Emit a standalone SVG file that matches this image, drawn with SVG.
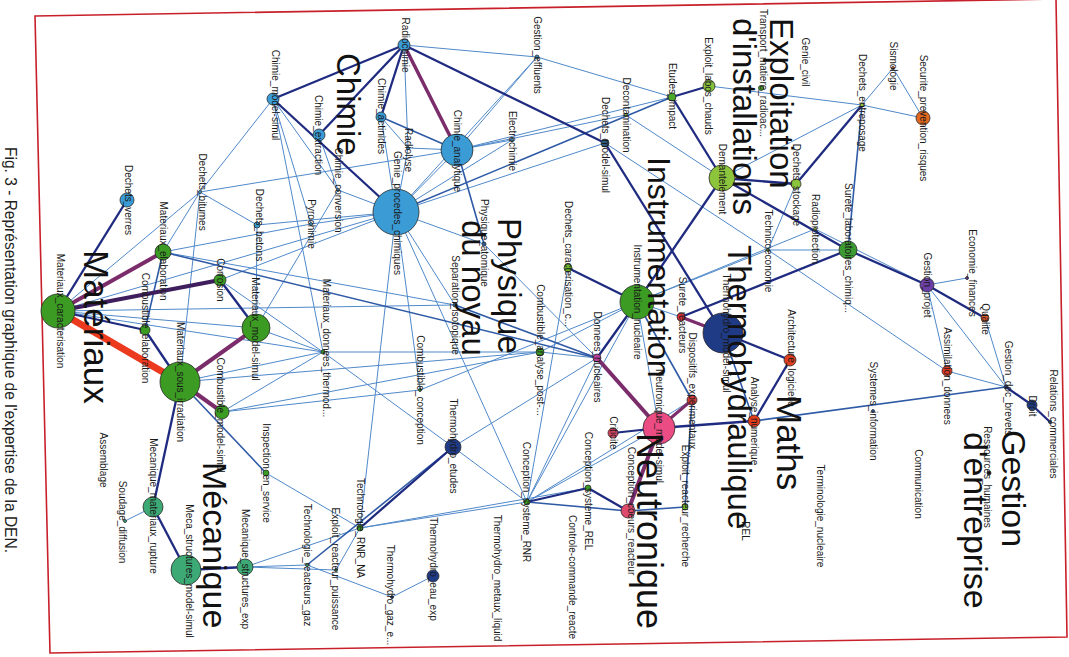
<svg xmlns="http://www.w3.org/2000/svg" width="1069" height="657" viewBox="0 0 1069 657">
<style>
.l{stroke:#5089ca;stroke-width:1;fill:none}
.m{stroke:#2e5aa6;stroke-width:1.6;fill:none}
.n{stroke:#1f2b80;stroke-width:2.3;fill:none}
.p{stroke:#7b2c6b;stroke-width:4;fill:none}
.dp{stroke:#3e1e5c;stroke-width:4;fill:none}
.r{stroke:#ec3a1f;stroke-width:7;fill:none;stroke-linecap:round}
circle{stroke:#2b2b2b;stroke-width:0.8}
.lb{font-family:"Liberation Sans",Arial,sans-serif;font-size:10px;fill:#1a1a1a;text-anchor:middle;dominant-baseline:central}
.big{font-family:"Liberation Sans",Arial,sans-serif;font-size:34px;fill:#111}
.cap{font-family:"Liberation Sans",Arial,sans-serif;font-size:17px;fill:#222}
</style>
<rect width="1069" height="657" fill="#ffffff"/>
<polygon points="35,16 1056,-1 1067,637 50,653" fill="none" stroke="#c8202a" stroke-width="1.6"/>
<text class="cap" transform="translate(5,147) rotate(90)" textLength="406" lengthAdjust="spacingAndGlyphs">Fig. 3 - Représentation graphique de l'expertise de la DEN.</text>

<g id="connectors">
<line class="l" x1="58" y1="311" x2="256" y2="328"/>
<line class="l" x1="58" y1="311" x2="323" y2="352"/>
<line class="l" x1="58" y1="311" x2="455" y2="305"/>
<line class="l" x1="58" y1="311" x2="200" y2="192"/>
<line class="l" x1="58" y1="311" x2="396" y2="212"/>
<line class="l" x1="163" y1="252" x2="455" y2="305"/>
<line class="l" x1="163" y1="252" x2="200" y2="192"/>
<line class="l" x1="163" y1="252" x2="311" y2="224"/>
<line class="l" x1="220" y1="280" x2="323" y2="352"/>
<line class="l" x1="220" y1="280" x2="396" y2="212"/>
<line class="l" x1="256" y1="328" x2="323" y2="352"/>
<line class="l" x1="256" y1="328" x2="338" y2="190"/>
<line class="l" x1="256" y1="328" x2="257" y2="225"/>
<line class="l" x1="180" y1="382" x2="323" y2="352"/>
<line class="l" x1="180" y1="382" x2="200" y2="192"/>
<line class="l" x1="180" y1="382" x2="540" y2="352"/>
<line class="l" x1="222" y1="412" x2="323" y2="352"/>
<line class="l" x1="222" y1="412" x2="420" y2="390"/>
<line class="l" x1="222" y1="412" x2="540" y2="352"/>
<line class="l" x1="323" y1="352" x2="453" y2="447"/>
<line class="l" x1="323" y1="352" x2="540" y2="352"/>
<line class="l" x1="323" y1="352" x2="273" y2="99"/>
<line class="l" x1="200" y1="192" x2="273" y2="99"/>
<line class="l" x1="200" y1="192" x2="257" y2="225"/>
<line class="l" x1="200" y1="192" x2="457" y2="150"/>
<line class="l" x1="257" y1="225" x2="396" y2="212"/>
<line class="l" x1="273" y1="99" x2="311" y2="224"/>
<line class="l" x1="273" y1="99" x2="338" y2="190"/>
<line class="l" x1="404" y1="45" x2="537" y2="57"/>
<line class="l" x1="404" y1="45" x2="408" y2="148"/>
<line class="l" x1="381" y1="117" x2="408" y2="148"/>
<line class="l" x1="381" y1="117" x2="396" y2="212"/>
<line class="l" x1="319" y1="135" x2="338" y2="190"/>
<line class="l" x1="408" y1="148" x2="396" y2="212"/>
<line class="l" x1="408" y1="148" x2="457" y2="150"/>
<line class="l" x1="457" y1="150" x2="396" y2="212"/>
<line class="l" x1="457" y1="150" x2="537" y2="57"/>
<line class="l" x1="457" y1="150" x2="512" y2="140"/>
<line class="l" x1="457" y1="150" x2="626" y2="115"/>
<line class="l" x1="457" y1="150" x2="672" y2="97"/>
<line class="l" x1="396" y1="212" x2="512" y2="140"/>
<line class="l" x1="396" y1="212" x2="537" y2="57"/>
<line class="l" x1="396" y1="212" x2="311" y2="224"/>
<line class="l" x1="396" y1="212" x2="338" y2="190"/>
<line class="l" x1="396" y1="212" x2="484" y2="244"/>
<line class="l" x1="396" y1="212" x2="455" y2="305"/>
<line class="l" x1="396" y1="212" x2="420" y2="390"/>
<line class="l" x1="396" y1="212" x2="605" y2="143"/>
<line class="l" x1="396" y1="212" x2="527" y2="502"/>
<line class="l" x1="396" y1="212" x2="360" y2="528"/>
<line class="l" x1="484" y1="244" x2="597" y2="358"/>
<line class="l" x1="420" y1="390" x2="637" y2="302"/>
<line class="l" x1="453" y1="447" x2="527" y2="502"/>
<line class="l" x1="453" y1="447" x2="597" y2="358"/>
<line class="l" x1="266" y1="473" x2="360" y2="528"/>
<line class="l" x1="245" y1="567" x2="307" y2="565"/>
<line class="l" x1="245" y1="567" x2="336" y2="570"/>
<line class="l" x1="245" y1="567" x2="360" y2="528"/>
<line class="l" x1="307" y1="565" x2="392" y2="597"/>
<line class="l" x1="392" y1="597" x2="433" y2="576"/>
<line class="l" x1="336" y1="570" x2="360" y2="528"/>
<line class="l" x1="360" y1="528" x2="527" y2="502"/>
<line class="l" x1="360" y1="528" x2="588" y2="488"/>
<line class="l" x1="125" y1="521" x2="153" y2="507"/>
<line class="l" x1="527" y1="502" x2="597" y2="358"/>
<line class="l" x1="527" y1="502" x2="568" y2="268"/>
<line class="l" x1="527" y1="502" x2="637" y2="302"/>
<line class="l" x1="527" y1="502" x2="659" y2="428"/>
<line class="l" x1="527" y1="502" x2="692" y2="400"/>
<line class="l" x1="537" y1="57" x2="672" y2="97"/>
<line class="l" x1="626" y1="115" x2="722" y2="178"/>
<line class="l" x1="709" y1="86" x2="862" y2="105"/>
<line class="l" x1="862" y1="105" x2="722" y2="178"/>
<line class="l" x1="862" y1="105" x2="893" y2="68"/>
<line class="l" x1="862" y1="105" x2="923" y2="118"/>
<line class="l" x1="893" y1="68" x2="923" y2="118"/>
<line class="l" x1="605" y1="143" x2="768" y2="250"/>
<line class="l" x1="796" y1="184" x2="768" y2="250"/>
<line class="l" x1="768" y1="250" x2="848" y2="250"/>
<line class="l" x1="768" y1="250" x2="947" y2="371"/>
<line class="l" x1="768" y1="250" x2="637" y2="302"/>
<line class="l" x1="815" y1="229" x2="927" y2="285"/>
<line class="l" x1="815" y1="229" x2="637" y2="302"/>
<line class="l" x1="637" y1="302" x2="540" y2="352"/>
<line class="l" x1="637" y1="302" x2="681" y2="317"/>
<line class="l" x1="637" y1="302" x2="659" y2="428"/>
<line class="l" x1="927" y1="285" x2="967" y2="278"/>
<line class="l" x1="927" y1="285" x2="947" y2="371"/>
<line class="l" x1="927" y1="285" x2="1006" y2="387"/>
<line class="l" x1="1006" y1="387" x2="947" y2="371"/>
<line class="l" x1="1006" y1="387" x2="985" y2="318"/>
<line class="l" x1="540" y1="352" x2="597" y2="358"/>
<line class="m" x1="455" y1="305" x2="597" y2="358"/>
<line class="m" x1="180" y1="382" x2="266" y2="473"/>
<line class="m" x1="163" y1="252" x2="145" y2="330"/>
<line class="m" x1="307" y1="565" x2="453" y2="447"/>
<line class="m" x1="637" y1="302" x2="692" y2="400"/>
<line class="m" x1="628" y1="511" x2="685" y2="507"/>
<line class="m" x1="692" y1="400" x2="685" y2="507"/>
<line class="m" x1="723" y1="333" x2="754" y2="421"/>
<line class="m" x1="754" y1="421" x2="1006" y2="387"/>
<line class="m" x1="381" y1="117" x2="457" y2="150"/>
<line class="m" x1="457" y1="150" x2="484" y2="244"/>
<line class="m" x1="396" y1="212" x2="672" y2="97"/>
<line class="m" x1="862" y1="105" x2="848" y2="250"/>
<line class="m" x1="527" y1="502" x2="628" y2="511"/>
<line class="m" x1="163" y1="252" x2="597" y2="358"/>
<line class="n" x1="58" y1="311" x2="127" y2="200"/>
<line class="n" x1="58" y1="311" x2="145" y2="330"/>
<line class="n" x1="145" y1="330" x2="180" y2="382"/>
<line class="n" x1="220" y1="280" x2="256" y2="328"/>
<line class="n" x1="180" y1="382" x2="153" y2="507"/>
<line class="n" x1="153" y1="507" x2="186" y2="570"/>
<line class="n" x1="186" y1="570" x2="245" y2="567"/>
<line class="n" x1="404" y1="45" x2="273" y2="99"/>
<line class="n" x1="404" y1="45" x2="319" y2="135"/>
<line class="n" x1="404" y1="45" x2="381" y2="117"/>
<line class="n" x1="273" y1="99" x2="396" y2="212"/>
<line class="n" x1="404" y1="45" x2="605" y2="143"/>
<line class="n" x1="605" y1="143" x2="723" y2="333"/>
<line class="n" x1="722" y1="178" x2="637" y2="302"/>
<line class="n" x1="722" y1="178" x2="796" y2="184"/>
<line class="n" x1="722" y1="178" x2="848" y2="250"/>
<line class="n" x1="722" y1="178" x2="672" y2="97"/>
<line class="n" x1="672" y1="97" x2="709" y2="86"/>
<line class="n" x1="796" y1="184" x2="862" y2="105"/>
<line class="n" x1="848" y1="250" x2="927" y2="285"/>
<line class="n" x1="927" y1="285" x2="985" y2="318"/>
<line class="n" x1="848" y1="250" x2="681" y2="317"/>
<line class="n" x1="637" y1="302" x2="568" y2="268"/>
<line class="n" x1="637" y1="302" x2="597" y2="358"/>
<line class="n" x1="723" y1="333" x2="790" y2="360"/>
<line class="n" x1="790" y1="360" x2="754" y2="421"/>
<line class="n" x1="659" y1="428" x2="754" y2="421"/>
<line class="n" x1="659" y1="428" x2="613" y2="433" style="stroke-width:2"/>
<line class="n" x1="1006" y1="387" x2="1032" y2="405"/>
<line class="n" x1="1032" y1="405" x2="1050" y2="422"/>
<line class="n" x1="588" y1="488" x2="628" y2="511"/>
<line class="n" x1="360" y1="528" x2="453" y2="447"/>
<line class="n" x1="527" y1="502" x2="588" y2="488"/>
<line class="dp" x1="58" y1="311" x2="220" y2="280"/>
<line class="p" x1="58" y1="311" x2="163" y2="252"/>
<line class="p" x1="180" y1="382" x2="256" y2="328"/>
<line class="p" x1="180" y1="382" x2="222" y2="412"/>
<line class="p" x1="404" y1="45" x2="457" y2="150" style="stroke-width:3.5"/>
<line class="p" x1="597" y1="358" x2="659" y2="428"/>
<line class="p" x1="659" y1="428" x2="628" y2="511"/>
<line class="p" x1="659" y1="428" x2="692" y2="400" style="stroke-width:3"/>
<line class="p" x1="681" y1="317" x2="723" y2="333" style="stroke-width:3"/>
<line class="r" x1="58" y1="311" x2="180" y2="382"/>
</g>

<g id="n-mat_car"><circle cx="58" cy="311" r="17" fill="#3b9b22"/><text class="lb" transform="translate(60,311) rotate(90)">Materiaux_caracterisation</text></g>
<g id="n-mat_elab"><circle cx="163" cy="252" r="8" fill="#3b9b22"/><text class="lb" transform="translate(163,251) rotate(90)">Materiaux_elaboration</text></g>
<g id="n-corr"><circle cx="220" cy="280" r="6" fill="#3b9b22"/><text class="lb" transform="translate(220,280) rotate(90)">Corrosion</text></g>
<g id="n-comb_elab"><circle cx="145" cy="330" r="5" fill="#3b9b22"/><text class="lb" transform="translate(145,328) rotate(90)">Combustible_elaboration</text></g>
<g id="n-mat_mod"><circle cx="256" cy="328" r="14" fill="#3b9b22"/><text class="lb" transform="translate(255,329) rotate(90)">Materiaux_model-simul</text></g>
<g id="n-mat_irr"><circle cx="180" cy="382" r="20" fill="#3b9b22"/><text class="lb" transform="translate(180,382) rotate(90)">Materiaux_sous_irradiation</text></g>
<g id="n-comb_mod"><circle cx="222" cy="412" r="7" fill="#3b9b22"/><text class="lb" transform="translate(220,415) rotate(90)">Combustible_model-simul</text></g>
<g id="n-dech_verres"><circle cx="127" cy="200" r="7" fill="#3a9bd5"/><text class="lb" transform="translate(128,200) rotate(90)">Dechets_verres</text></g>
<g id="n-dech_bit"><circle cx="200" cy="192" r="1.5" fill="#3a9bd5"/><text class="lb" transform="translate(202,192) rotate(90)">Dechets_bitumes</text></g>
<g id="n-dech_bet"><circle cx="257" cy="225" r="3" fill="#3a9bd5"/><text class="lb" transform="translate(259,225) rotate(90)">Dechets_betons</text></g>
<g id="n-chim_mod"><circle cx="273" cy="99" r="6" fill="#3a9bd5"/><text class="lb" transform="translate(275,95) rotate(90)">Chimie_model-simul</text></g>
<g id="n-radiochimie"><circle cx="404" cy="45" r="6" fill="#3a9bd5"/><text class="lb" transform="translate(405,45) rotate(90)">Radiochimie</text></g>
<g id="n-chim_act"><circle cx="381" cy="117" r="5" fill="#3a9bd5"/><text class="lb" transform="translate(381,116) rotate(90)">Chimie_actinides</text></g>
<g id="n-chim_ext"><circle cx="319" cy="135" r="6" fill="#3a9bd5"/><text class="lb" transform="translate(318,135) rotate(90)">Chimie_extraction</text></g>
<g id="n-chim_conv"><circle cx="338" cy="190" r="1.5" fill="#3a9bd5"/><text class="lb" transform="translate(338,190) rotate(90)">Chimie_conversion</text></g>
<g id="n-radiolyse"><circle cx="408" cy="148" r="1.5" fill="#3a9bd5"/><text class="lb" transform="translate(408,150) rotate(90)">Radiolyse</text></g>
<g id="n-chim_ana"><circle cx="457" cy="150" r="16" fill="#3a9bd5"/><text class="lb" transform="translate(457,151) rotate(90)">Chimie_analytique</text></g>
<g id="n-electro"><circle cx="512" cy="140" r="1.5" fill="#3a9bd5"/><text class="lb" transform="translate(512,141) rotate(90)">Electrochimie</text></g>
<g id="n-gest_eff"><circle cx="537" cy="57" r="2" fill="#3a9bd5"/><text class="lb" transform="translate(537,55) rotate(90)">Gestion_effluents</text></g>
<g id="n-gpc"><circle cx="396" cy="212" r="23" fill="#3a9bd5"/><text class="lb" transform="translate(397,213) rotate(90)">Genie_procedes_chimiques</text></g>
<g id="n-pyro"><circle cx="311" cy="224" r="1.5" fill="#3a9bd5"/><text class="lb" transform="translate(311,224) rotate(90)">Pyrochimie</text></g>
<g id="n-phys_at"><circle cx="484" cy="244" r="2" fill="#2d5a9a"/><text class="lb" transform="translate(484,243) rotate(90)">Physique_atomique</text></g>
<g id="n-sep_iso"><circle cx="455" cy="305" r="2" fill="#2d5a9a"/><text class="lb" transform="translate(455,305) rotate(90)">Separation_isotopique</text></g>
<g id="n-mat_thermo"><circle cx="323" cy="352" r="2" fill="#3b9b22"/><text class="lb" transform="translate(326,348) rotate(90)">Materiaux_donnees_thermod...</text></g>
<g id="n-comb_conc"><circle cx="420" cy="390" r="1.5" fill="#3b9b22"/><text class="lb" transform="translate(420,390) rotate(90)">Combustible_conception</text></g>
<g id="n-th_etudes"><circle cx="453" cy="447" r="8" fill="#1f3b86"/><text class="lb" transform="translate(453,446) rotate(90)">Thermohydro_etudes</text></g>
<g id="n-insp"><circle cx="266" cy="473" r="3" fill="#3b9b22"/><text class="lb" transform="translate(266,473) rotate(90)">Inspection_en_service</text></g>
<g id="n-assemblage"><text class="lb" transform="translate(103,460) rotate(90)">Assemblage</text></g>
<g id="n-soudage"><circle cx="125" cy="521" r="1.5" fill="#3daa75"/><text class="lb" transform="translate(122,522) rotate(90)">Soudage_diffusion</text></g>
<g id="n-meca_rupt"><circle cx="153" cy="507" r="10" fill="#3daa75"/><text class="lb" transform="translate(153,506) rotate(90)">Mecanique_materiaux_rupture</text></g>
<g id="n-meca_struct"><circle cx="186" cy="570" r="15" fill="#3daa75"/><text class="lb" transform="translate(189,571) rotate(90)">Meca_structures_model-simul</text></g>
<g id="n-meca_exp"><circle cx="245" cy="567" r="8" fill="#3daa75"/><text class="lb" transform="translate(245,569) rotate(90)">Mecanique_structures_exp</text></g>
<g id="n-tech_rnr"><circle cx="360" cy="528" r="3" fill="#3b9b22"/><text class="lb" transform="translate(360,528) rotate(90)">Technologie_RNR_NA</text></g>
<g id="n-exploit_puiss"><circle cx="336" cy="570" r="1.5" fill="#3daa75"/><text class="lb" transform="translate(335,569) rotate(90)">Exploit_reacteur_puissance</text></g>
<g id="n-tech_gaz"><circle cx="307" cy="565" r="1.5" fill="#3daa75"/><text class="lb" transform="translate(307,565) rotate(90)">Technologie_reacteurs_gaz</text></g>
<g id="n-th_gaz"><circle cx="392" cy="597" r="1.5" fill="#1f3b86"/><text class="lb" transform="translate(390,595) rotate(90)">Thermohydro_gaz_e...</text></g>
<g id="n-th_eau"><circle cx="433" cy="576" r="6" fill="#1f3b86"/><text class="lb" transform="translate(433,569) rotate(90)">Thermohydro_eau_exp</text></g>
<g id="n-conc_rnr"><circle cx="527" cy="502" r="3" fill="#3b9b22"/><text class="lb" transform="translate(526,502) rotate(90)">Conception_systeme_RNR</text></g>
<g id="n-th_met"><text class="lb" transform="translate(497,578) rotate(90)">Thermohydro_metaux_liquid</text></g>
<g id="n-expl_labos"><circle cx="709" cy="86" r="6" fill="#86c03a"/><text class="lb" transform="translate(708,86) rotate(90)">Exploit_labos_chauds</text></g>
<g id="n-etudes_imp"><circle cx="672" cy="97" r="4" fill="#4aa82a"/><text class="lb" transform="translate(672,96) rotate(90)">Etudes_impact</text></g>
<g id="n-transport"><circle cx="761" cy="88" r="2.5" fill="#4aa82a"/><text class="lb" transform="translate(763,73) rotate(90)">Transport_matiere_radioac...</text></g>
<g id="n-decont"><circle cx="626" cy="115" r="1.5" fill="#86c03a"/><text class="lb" transform="translate(626,115) rotate(90)">Decontamination</text></g>
<g id="n-dech_mod"><circle cx="605" cy="143" r="4" fill="#2d5a80"/><text class="lb" transform="translate(605,145) rotate(90)">Dechets_model-simul</text></g>
<g id="n-demant"><circle cx="722" cy="178" r="13" fill="#8cc43c"/><text class="lb" transform="translate(722,179) rotate(90)">Demantelement</text></g>
<g id="n-dech_car"><circle cx="568" cy="268" r="4" fill="#6cb82a"/><text class="lb" transform="translate(568,264) rotate(90)">Dechets_caracterisation_c...</text></g>
<g id="n-instr"><circle cx="637" cy="302" r="17" fill="#3b9b22"/><text class="lb" transform="translate(637,302) rotate(90)">Instrumentation_nucleaire</text></g>
<g id="n-dech_stock"><circle cx="796" cy="184" r="5" fill="#8cc43c"/><text class="lb" transform="translate(796,185) rotate(90)">Dechets_stockage</text></g>
<g id="n-techeco"><circle cx="768" cy="250" r="1.5" fill="#8cc43c"/><text class="lb" transform="translate(768,251) rotate(90)">Technicoeconomie</text></g>
<g id="n-radiopro"><circle cx="815" cy="229" r="1.5" fill="#8cc43c"/><text class="lb" transform="translate(815,229) rotate(90)">Radioprotection</text></g>
<g id="n-surete_labo"><circle cx="848" cy="250" r="9" fill="#3b9b32"/><text class="lb" transform="translate(848,248) rotate(90)">Surete_laboratoires_chimiq...</text></g>
<g id="n-genie_civil"><text class="lb" transform="translate(805,62) rotate(90)">Genie_civil</text></g>
<g id="n-dech_entr"><circle cx="862" cy="105" r="2" fill="#8cc43c"/><text class="lb" transform="translate(862,103) rotate(90)">Dechets_entreposage</text></g>
<g id="n-sismo"><circle cx="893" cy="68" r="1.5" fill="#e2681e"/><text class="lb" transform="translate(893,66) rotate(90)">Sismologie</text></g>
<g id="n-secu"><circle cx="923" cy="118" r="7" fill="#e2681e"/><text class="lb" transform="translate(923,118) rotate(90)">Securite_prevention_risques</text></g>
<g id="n-eco"><circle cx="967" cy="278" r="1.5" fill="#6b3fa6"/><text class="lb" transform="translate(972,273) rotate(90)">Economie_finances</text></g>
<g id="n-gest_proj"><circle cx="927" cy="285" r="7" fill="#6b3fa6"/><text class="lb" transform="translate(927,285) rotate(90)">Gestion_projet</text></g>
<g id="n-qualite"><circle cx="985" cy="318" r="4" fill="#e0582a"/><text class="lb" transform="translate(985,319) rotate(90)">Qualite</text></g>
<g id="n-assim"><circle cx="947" cy="371" r="5" fill="#dd3a22"/><text class="lb" transform="translate(947,376) rotate(90)">Assimilation_donnees</text></g>
<g id="n-gest_doc"><circle cx="1006" cy="387" r="2" fill="#1f3b86"/><text class="lb" transform="translate(1008,388) rotate(90)">Gestion_doc_brevets</text></g>
<g id="n-droit"><circle cx="1032" cy="405" r="5" fill="#1f3b86"/><text class="lb" transform="translate(1032,406) rotate(90)">Droit</text></g>
<g id="n-rel_com"><circle cx="1050" cy="422" r="1.5" fill="#1f3b86"/><text class="lb" transform="translate(1053,424) rotate(90)">Relations_commerciales</text></g>
<g id="n-rh"><circle cx="989" cy="473" r="2" fill="#111111"/><text class="lb" transform="translate(987,477) rotate(90)">Ressources_humaines</text></g>
<g id="n-comm"><text class="lb" transform="translate(918,484) rotate(90)">Communication</text></g>
<g id="n-termino"><text class="lb" transform="translate(820,516) rotate(90)">Terminologie_nucleaire</text></g>
<g id="n-sys_info"><circle cx="873" cy="411" r="1.5" fill="#2e5aa6"/><text class="lb" transform="translate(873,411) rotate(90)">Systemes_information</text></g>
<g id="n-archi"><circle cx="790" cy="360" r="6" fill="#e03f20"/><text class="lb" transform="translate(791,358) rotate(90)">Architecture_logicielle</text></g>
<g id="n-comb_ana"><circle cx="540" cy="352" r="4" fill="#3b9b22"/><text class="lb" transform="translate(540,350) rotate(90)">Combustible_analyse_post-...</text></g>
<g id="n-donnees_nuc"><circle cx="597" cy="358" r="4" fill="#b5409c"/><text class="lb" transform="translate(597,357) rotate(90)">Donnees_nucleaires</text></g>
<g id="n-surete_reac"><circle cx="681" cy="317" r="4" fill="#d5303c"/><text class="lb" transform="translate(682,315) rotate(90)">Surete_reacteurs</text></g>
<g id="n-thermo_mod"><circle cx="723" cy="333" r="20" fill="#1f3b86"/><text class="lb" transform="translate(726,333) rotate(90)">Thermohydro_model-simul</text></g>
<g id="n-dispositifs"><circle cx="692" cy="400" r="5" fill="#cc3b3b"/><text class="lb" transform="translate(692,395) rotate(90)">Dispositifs_experimentaux...</text></g>
<g id="n-analyse_num"><circle cx="754" cy="421" r="6" fill="#e33c1c"/><text class="lb" transform="translate(754,421) rotate(90)">Analyse_numerique</text></g>
<g id="n-rel"><text class="lb" transform="translate(745,531) rotate(90)">REL</text></g>
<g id="n-neutro_mod"><circle cx="659" cy="428" r="16" fill="#ec4c84"/><text class="lb" transform="translate(659,426) rotate(90)">Neutronique_model-simul</text></g>
<g id="n-criticite"><circle cx="613" cy="433" r="5" fill="#d64466"/><text class="lb" transform="translate(613,433) rotate(90)">Criticite</text></g>
<g id="n-conc_coeurs"><circle cx="628" cy="511" r="7" fill="#dc4a6e"/><text class="lb" transform="translate(631,511) rotate(90)">Conception_coeurs_reacteur</text></g>
<g id="n-expl_rech"><circle cx="685" cy="507" r="3" fill="#6cb82a"/><text class="lb" transform="translate(685,506) rotate(90)">Exploit_reacteur_recherche</text></g>
<g id="n-conc_rel"><circle cx="588" cy="488" r="3" fill="#3b9b22"/><text class="lb" transform="translate(588,491) rotate(90)">Conception_systeme_REL</text></g>
<g id="n-ctrl"><text class="lb" transform="translate(572,577) rotate(90)">Controle-commande_reacte</text></g>

<g id="group-labels">
<text class="big" style="font-size:35px" transform="translate(84,250) rotate(90)">Matériaux</text>
<text class="big" transform="translate(203,462) rotate(90)">Mécanique</text>
<text class="big" style="font-size:33px" transform="translate(337,53) rotate(90)">Chimie</text>
<text class="big" style="font-size:33px" transform="translate(498,218) rotate(90)">Physique</text>
<text class="big" style="font-size:33px" transform="translate(462,220) rotate(90)">du noyau</text>
<text class="big" style="font-size:33px" transform="translate(770,18) rotate(90)">Exploitation</text>
<text class="big" style="font-size:33px" transform="translate(733,18) rotate(90)">d'installations</text>
<text class="big" style="font-size:32px" transform="translate(648,157) rotate(90)">Instrumentation</text>
<text class="big" style="font-size:33px" transform="translate(728,245) rotate(90)">Thermohydraulique</text>
<text class="big" style="font-size:35px" transform="translate(777,395) rotate(90)">Maths</text>
<text class="big" style="font-size:36px" transform="translate(637,433) rotate(90)">Neutronique</text>
<text class="big" transform="translate(1002,430) rotate(90)">Gestion</text>
<text class="big" transform="translate(964,432) rotate(90)">d'entreprise</text>
</g>
</svg>
